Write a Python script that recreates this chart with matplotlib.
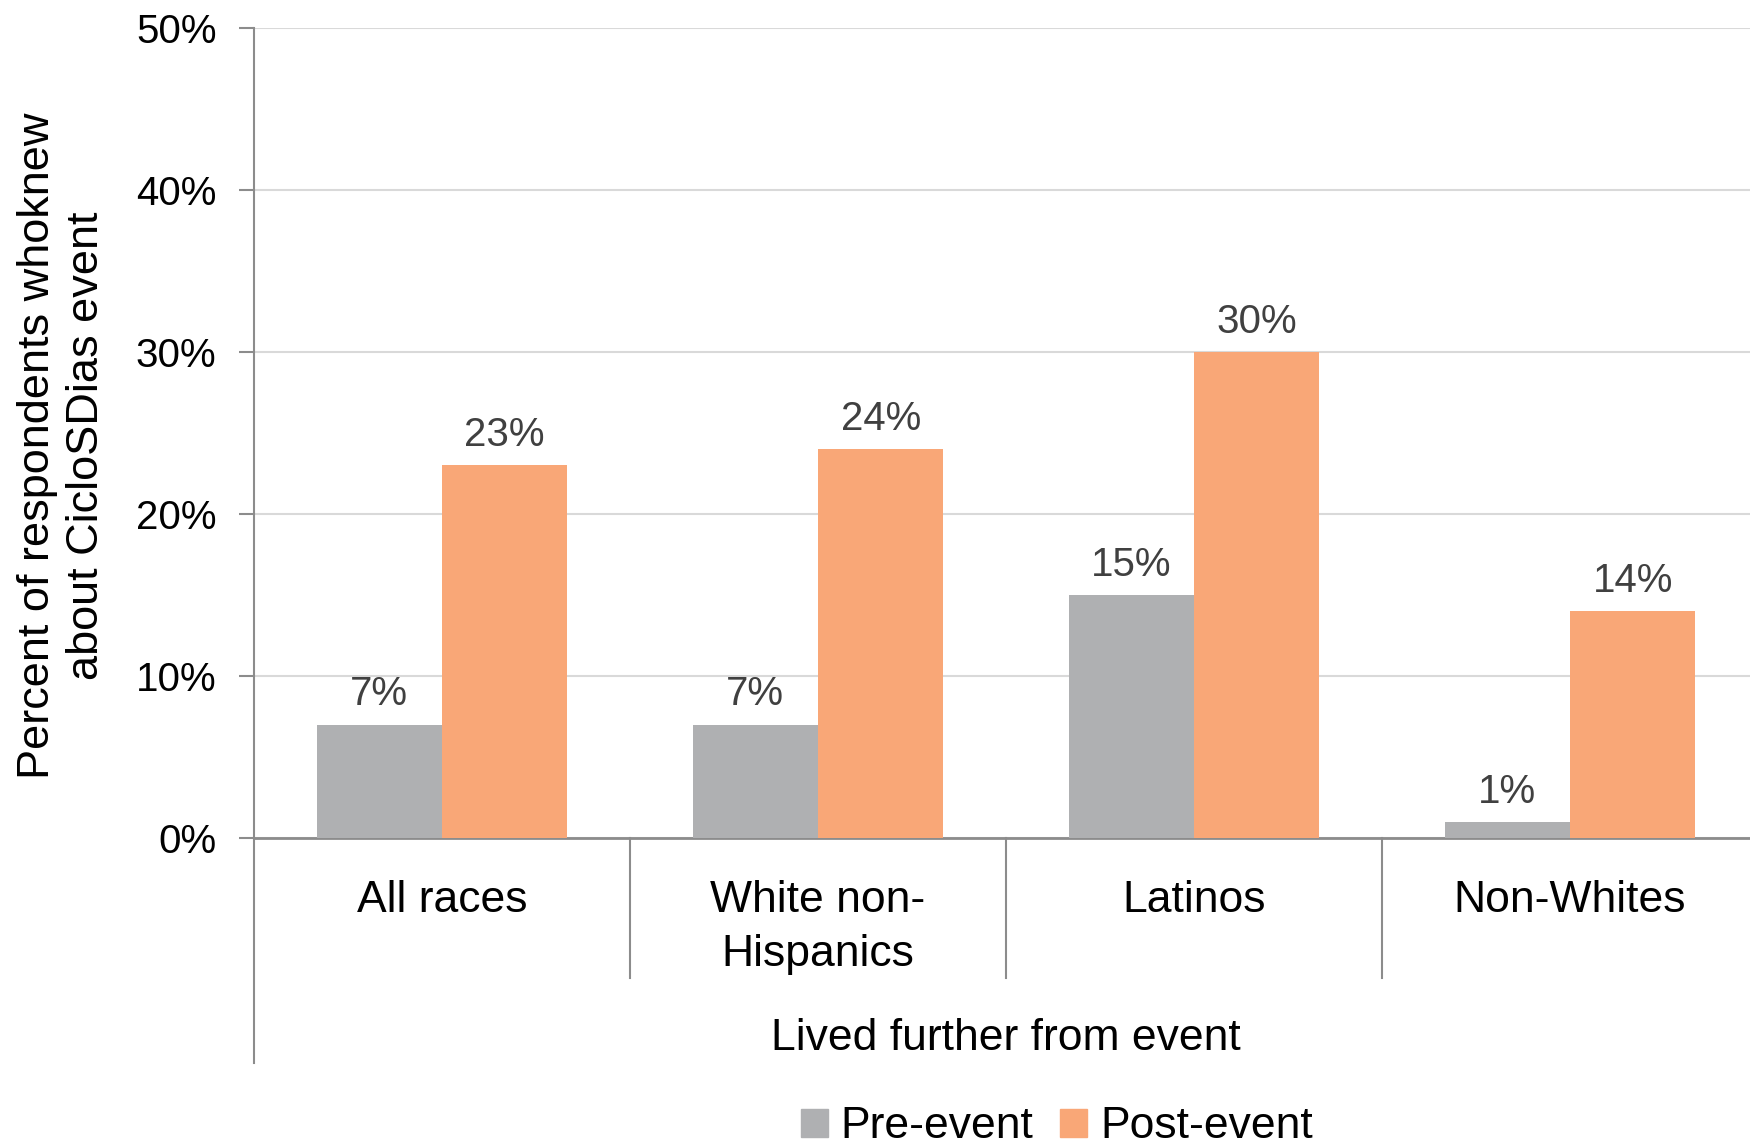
import matplotlib
matplotlib.use("Agg")
import matplotlib.pyplot as plt
from matplotlib.patches import Patch
from matplotlib.transforms import blended_transform_factory
import numpy as np

categories = ["All races", "White non-\nHispanics", "Latinos", "Non-Whites"]
pre_event = [7, 7, 15, 1]
post_event = [23, 24, 30, 14]
series_names = ["Pre-event", "Post-event"]
group_title = "Lived further from event"
y_title = "Percent of respondents whoknew\nabout CicloSDias event"
y_ticks = [0, 10, 20, 30, 40, 50]

GRAY = "#AFB0B2"
ORANGE = "#F9A777"
AXIS = "#8C8C8C"
GRID = "#D9D9D9"
LABEL = "#404040"
FONT = ["Liberation Sans", "DejaVu Sans"]

plt.rcParams["font.family"] = FONT

fig = plt.figure(figsize=(17.5, 11.48), dpi=100)
ax = fig.add_axes([254 / 1750, 310 / 1148, 1 - 254 / 1750, 810 / 1148])

x = np.arange(len(categories))
width = 1 / 3
bars_pre = ax.bar(x - width / 2, pre_event, width, color=GRAY, zorder=3)
bars_post = ax.bar(x + width / 2, post_event, width, color=ORANGE, zorder=3)

for bars, vals in ((bars_pre, pre_event), (bars_post, post_event)):
    for b, v in zip(bars, vals):
        ax.annotate(f"{v}%", (b.get_x() + b.get_width() / 2, v),
                    xytext=(0, 8), textcoords="offset points",
                    ha="center", va="bottom", fontsize=29, color=LABEL)

ax.set_xlim(-0.5, -0.5 + 1496 / 376)
ax.set_ylim(0, 50)
ax.set_yticks(y_ticks)
ax.set_yticklabels([f"{t}%" for t in y_ticks], fontsize=29)
ax.tick_params(axis="y", length=11, width=1.5, color=AXIS, pad=16)
ax.set_xticks([])
ax.grid(axis="y", color=GRID, linewidth=1.5, zorder=0)

for side in ("top", "right"):
    ax.spines[side].set_visible(False)
ax.spines["left"].set_color(AXIS)
ax.spines["left"].set_linewidth(1.5)
ax.spines["bottom"].set_color(AXIS)
ax.spines["bottom"].set_linewidth(2)

# category dividers and the extended left axis below the plot
trans = blended_transform_factory(ax.transData, ax.transAxes)
for xd in x[:-1] + 0.5:
    ax.plot([xd, xd], [0, -140 / 810], transform=trans, color=AXIS,
            linewidth=1.5, clip_on=False)
ax.plot([-0.5, -0.5], [0, -225 / 810], transform=trans, color=AXIS,
        linewidth=1.5, clip_on=False)

for xi, name in zip(x, categories):
    ax.text(xi, -42 / 810, name, transform=trans, ha="center", va="top",
            fontsize=32, linespacing=1.42)

ax.text(1.5, -200 / 810, group_title, transform=trans, ha="center",
        va="center", fontsize=32)

fig.text(62 / 1750, 1 - 446 / 1148, y_title, rotation=90, ha="center",
         va="center", fontsize=32.5, linespacing=1.28)

handles = [Patch(color=GRAY), Patch(color=ORANGE)]
fig.legend(handles, series_names, loc="center", ncol=2,
           bbox_to_anchor=(1057 / 1750, 1 - 1127 / 1148), frameon=False,
           prop={"size": 32}, handlelength=0.6, borderpad=0.2,
           handleheight=0.6, handletextpad=0.3, columnspacing=0.6)

fig.savefig("out.png", dpi=100)
